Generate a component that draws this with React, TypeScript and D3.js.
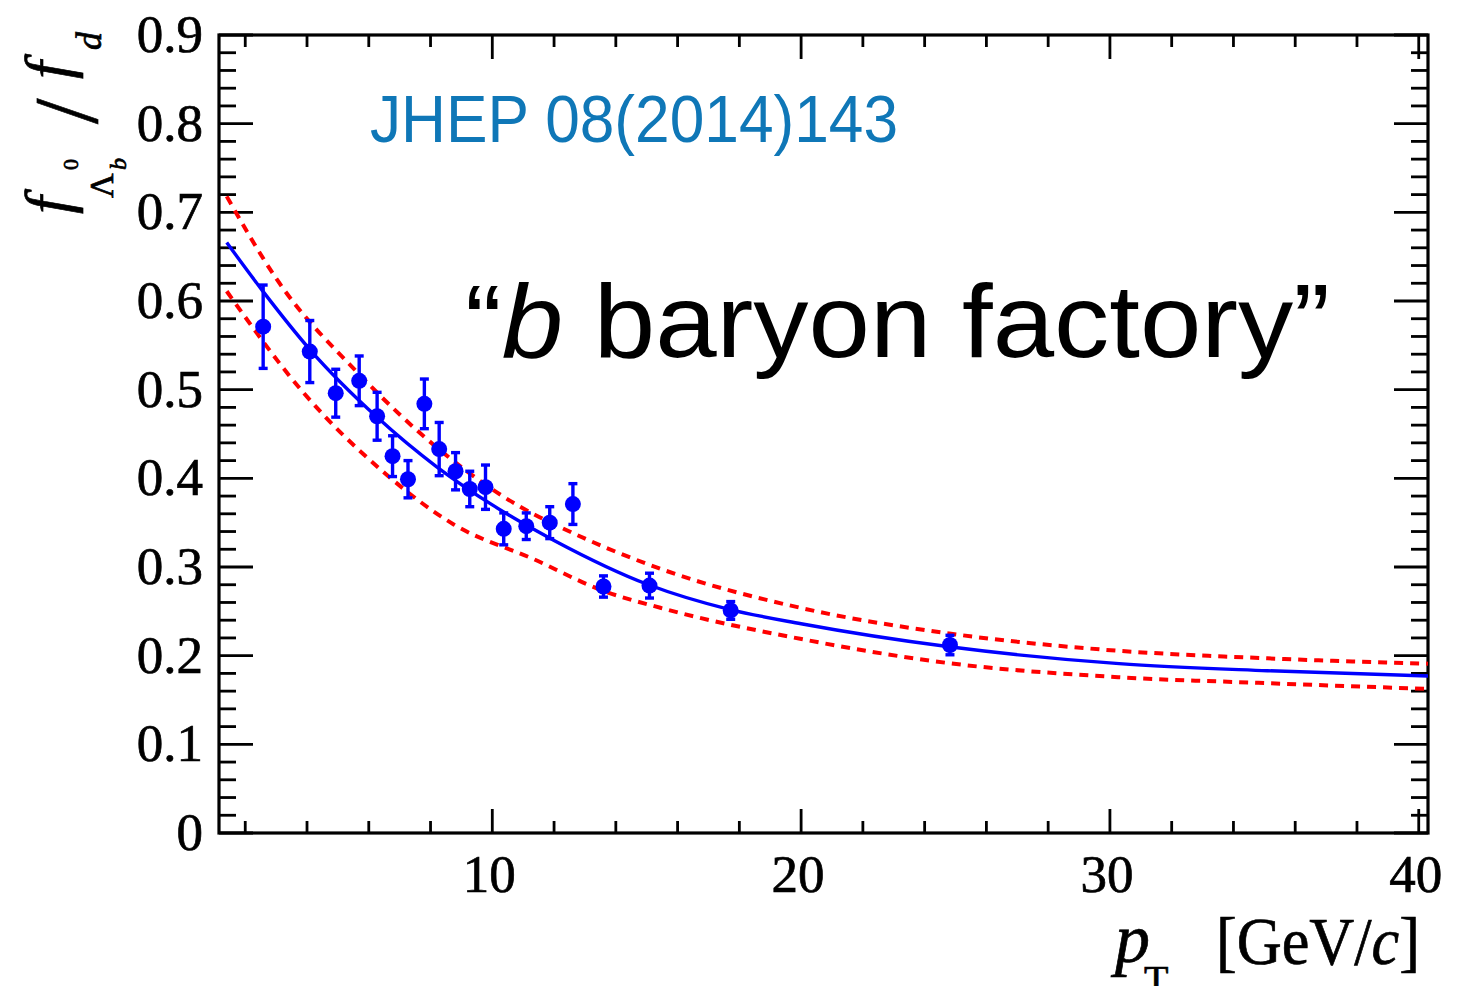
import React from 'react';
import * as d3 from 'd3';

// measured points: pT [GeV/c], f_Lb/f_d, error
const ptValues = [2.58, 4.09, 4.93, 5.69, 6.27, 6.77, 7.27, 7.8, 8.28, 8.81, 9.27, 9.78, 10.37, 11.1, 11.86, 12.61, 13.6, 15.09, 17.72, 24.82];
const ratioValues = [0.571, 0.543, 0.496, 0.51, 0.47, 0.425, 0.399, 0.484, 0.433, 0.408, 0.388, 0.39, 0.343, 0.346, 0.35, 0.371, 0.278, 0.279, 0.251, 0.212];
const ratioErrors = [0.047, 0.035, 0.027, 0.028, 0.027, 0.023, 0.021, 0.028, 0.03, 0.021, 0.02, 0.025, 0.018, 0.015, 0.018, 0.023, 0.012, 0.014, 0.01, 0.011];

// fit curve and its band
const fitPt = [1.4, 2.55, 4.1, 6.3, 8.2, 10.0, 12.0, 15.06, 17.7, 20.0, 24.8, 30.3, 35.1, 40.3];
const fitCentral = [0.666, 0.612, 0.545, 0.468, 0.413, 0.37, 0.33, 0.28, 0.252, 0.236, 0.21, 0.191, 0.183, 0.177];
const bandUpperPt = [1.4, 3.03, 5.7, 8.3, 10.9, 12.2, 15.44, 19.97, 24.8, 29.7, 35.1, 40.3];
const bandUpper = [0.718, 0.624, 0.517, 0.432, 0.368, 0.345, 0.298, 0.254, 0.225, 0.207, 0.197, 0.191];
const bandLowerPt = [1.4, 3.9, 6.38, 8.75, 11.33, 13.6, 15.44, 19.97, 24.8, 30.3, 35.1, 40.3];
const bandLower = [0.611, 0.496, 0.41, 0.348, 0.309, 0.273, 0.254, 0.219, 0.1915, 0.1757, 0.169, 0.1625];

const xMajorTicks = [10, 20, 30, 40];
const xTickLabels = ['10', '20', '30', '40'];
const yMajorTicks = [0, 0.1, 0.2, 0.3, 0.4, 0.5, 0.6, 0.7, 0.8, 0.9];
const yTickLabels = ['0', '0.1', '0.2', '0.3', '0.4', '0.5', '0.6', '0.7', '0.8', '0.9'];

const W = 1460;
const H = 986;
const serif = '"Liberation Serif", "DejaVu Serif", serif';
const sans = '"Liberation Sans", Arial, sans-serif';

export default function App() {
  const left = 219, right = 1428, top = 35, bottom = 833;
  const x = d3.scaleLinear().domain([1.15, 40.3]).range([left, right]);
  const y = d3.scaleLinear().domain([0, 0.9]).range([bottom, top]);

  const line = d3.line<[number, number]>()
    .x((d) => x(d[0]))
    .y((d) => y(d[1]))
    .curve(d3.curveMonotoneX);

  const central = line(fitPt.map((p, i) => [p, fitCentral[i]]));
  const upper = line(bandUpperPt.map((p, i) => [p, bandUpper[i]]));
  const lower = line(bandLowerPt.map((p, i) => [p, bandLower[i]]));

  const xMinor = d3.range(2, 41, 2).filter((v) => v % 10 !== 0);
  const yMinor = d3.range(0, 46).map((i) => i * 0.02).filter((v, i) => i % 5 !== 0);

  const tickStroke = { stroke: '#000', strokeWidth: 2.8 };
  const heavy = { stroke: '#000', strokeWidth: 0.7 };

  return (
    <svg width={W} height={H} style={{ position: 'absolute', left: 0, top: 0, background: '#fff' }}>
      {/* ticks, all four sides, pointing in */}
      {xMajorTicks.map((v) => (
        <g key={'xM' + v}>
          <line x1={x(v)} x2={x(v)} y1={bottom} y2={bottom - 24} {...tickStroke} />
          <line x1={x(v)} x2={x(v)} y1={top} y2={top + 24} {...tickStroke} />
        </g>
      ))}
      {xMinor.map((v) => (
        <g key={'xm' + v}>
          <line x1={x(v)} x2={x(v)} y1={bottom} y2={bottom - 12} {...tickStroke} />
          <line x1={x(v)} x2={x(v)} y1={top} y2={top + 12} {...tickStroke} />
        </g>
      ))}
      {yMajorTicks.map((v) => (
        <g key={'yM' + v}>
          <line x1={left} x2={left + 34} y1={y(v)} y2={y(v)} {...tickStroke} />
          <line x1={right} x2={right - 34} y1={y(v)} y2={y(v)} {...tickStroke} />
        </g>
      ))}
      {yMinor.map((v) => (
        <g key={'ym' + v}>
          <line x1={left} x2={left + 17} y1={y(v)} y2={y(v)} {...tickStroke} />
          <line x1={right} x2={right - 17} y1={y(v)} y2={y(v)} {...tickStroke} />
        </g>
      ))}
      <rect x={left} y={top} width={right - left} height={bottom - top} fill="none" stroke="#000" strokeWidth={3.2} />

      {/* tick labels */}
      {yMajorTicks.map((v, i) => (
        <text key={'yl' + v} x={203} y={y(v) + 17} textAnchor="end" fontFamily={serif} fontSize={53} {...heavy}>
          {yTickLabels[i]}
        </text>
      ))}
      {xMajorTicks.map((v, i) => (
        <text key={'xl' + v} x={x(v) - 3} y={892} textAnchor="middle" fontFamily={serif} fontSize={53} {...heavy}>
          {xTickLabels[i]}
        </text>
      ))}

      {/* fit with dashed uncertainty band */}
      <path d={upper} fill="none" stroke="#ff0000" strokeWidth={4} strokeDasharray="9 7" />
      <path d={lower} fill="none" stroke="#ff0000" strokeWidth={4} strokeDasharray="9 7" />
      <path d={central} fill="none" stroke="#0000ff" strokeWidth={3.4} />

      {/* data points */}
      {ptValues.map((p, i) => {
        const cx = x(p);
        const y1 = y(ratioValues[i] + ratioErrors[i]);
        const y2 = y(ratioValues[i] - ratioErrors[i]);
        return (
          <g key={'pt' + i} stroke="#0000ff" strokeWidth={3.4}>
            <line x1={cx} x2={cx} y1={y1} y2={y2} />
            <line x1={cx - 4.5} x2={cx + 4.5} y1={y1} y2={y1} />
            <line x1={cx - 4.5} x2={cx + 4.5} y1={y2} y2={y2} />
            <circle cx={cx} cy={y(ratioValues[i])} r={8} fill="#0000ff" stroke="none" />
          </g>
        );
      })}

      {/* annotations */}
      <text x={370} y={142} fontFamily={sans} fontSize={66} fill="#0f77b7" textLength={528} lengthAdjust="spacingAndGlyphs">
        JHEP 08(2014)143
      </text>
      <text x={465} y={357} fontFamily={sans} fontSize={104} fill="#000" textLength={865} lengthAdjust="spacingAndGlyphs">
        {'\u201C'}<tspan fontStyle="italic">b</tspan> baryon factory{'\u201D'}
      </text>

      {/* y axis title */}
      <g transform="rotate(-90)" fontFamily={serif} {...heavy}>
        <text x={-214} y={69} fontSize={64} fontStyle="italic">f</text>
        <text x={-198} y={113} fontSize={34}>Λ</text>
        <text x={-170} y={78} fontSize={22}>0</text>
        <text x={-170} y={126} fontSize={24} fontStyle="italic">b</text>
        <text x={-124} y={97} fontSize={92}>/</text>
        <text x={-79} y={69} fontSize={64} fontStyle="italic">f</text>
        <text x={-50} y={101} fontSize={36} fontStyle="italic">d</text>
      </g>

      {/* x axis title */}
      <text x={1115} y={962} fontFamily={serif} fontSize={70} fontStyle="italic" {...heavy}>p</text>
      <text x={1144} y={993} fontFamily={serif} fontSize={40} {...heavy}>T</text>
      <text x={1216} y={964} fontFamily={serif} fontSize={68} textLength={204} lengthAdjust="spacingAndGlyphs" {...heavy}>
        [GeV/<tspan fontStyle="italic">c</tspan>]
      </text>
    </svg>
  );
}
